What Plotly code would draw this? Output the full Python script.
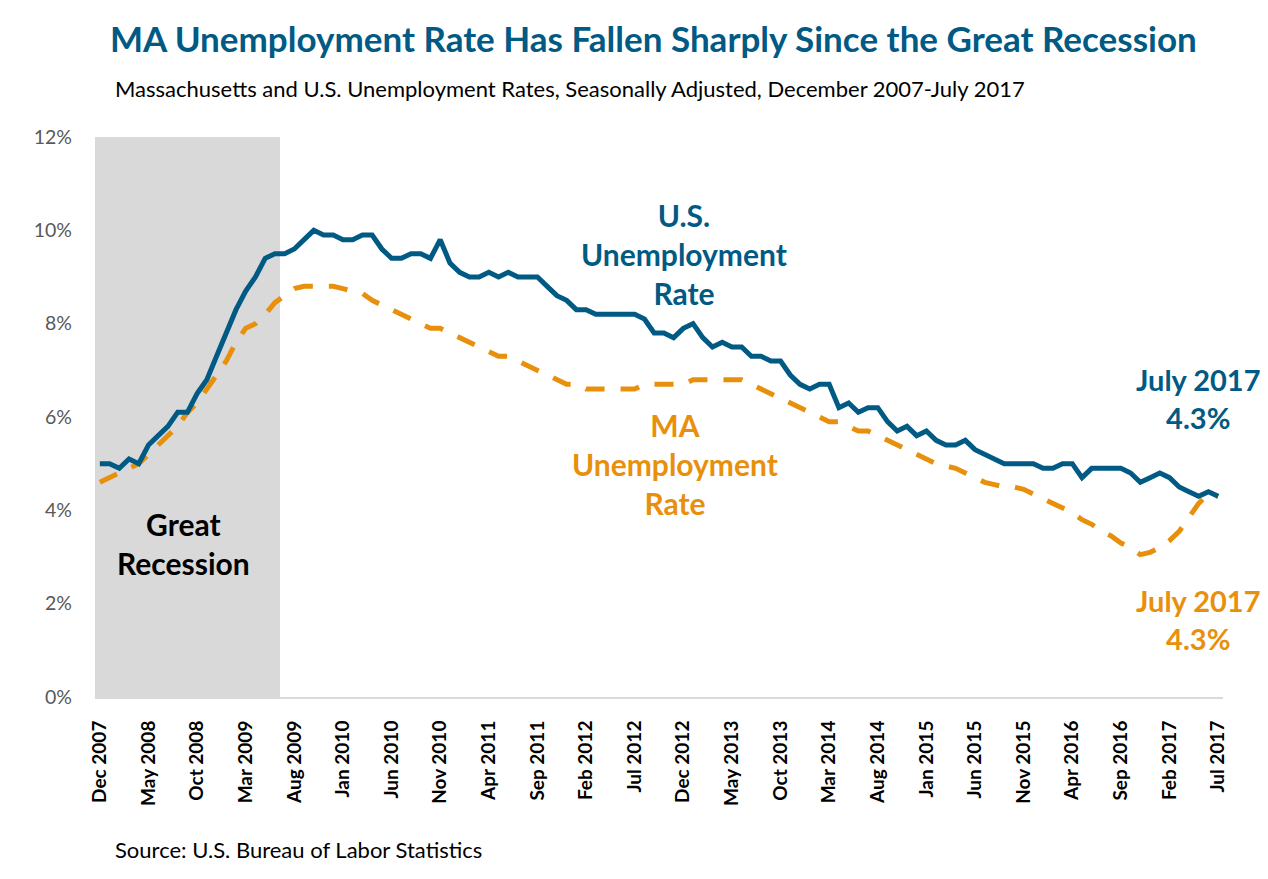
import plotly.graph_objects as go
import pandas as pd

# ---------------- data ----------------
months = list(pd.date_range("2007-12-01", periods=116, freq="MS").strftime("%b %Y"))

us_rate = [
    5.0,
    5.0, 4.9, 5.1, 5.0, 5.4, 5.6, 5.8, 6.1, 6.1, 6.5, 6.8, 7.3,
    7.8, 8.3, 8.7, 9.0, 9.4, 9.5, 9.5, 9.6, 9.8, 10.0, 9.9, 9.9,
    9.8, 9.8, 9.9, 9.9, 9.6, 9.4, 9.4, 9.5, 9.5, 9.4, 9.8, 9.3,
    9.1, 9.0, 9.0, 9.1, 9.0, 9.1, 9.0, 9.0, 9.0, 8.8, 8.6, 8.5,
    8.3, 8.3, 8.2, 8.2, 8.2, 8.2, 8.2, 8.1, 7.8, 7.8, 7.7, 7.9,
    8.0, 7.7, 7.5, 7.6, 7.5, 7.5, 7.3, 7.3, 7.2, 7.2, 6.9, 6.7,
    6.6, 6.7, 6.7, 6.2, 6.3, 6.1, 6.2, 6.2, 5.9, 5.7, 5.8, 5.6,
    5.7, 5.5, 5.4, 5.4, 5.5, 5.3, 5.2, 5.1, 5.0, 5.0, 5.0, 5.0,
    4.9, 4.9, 5.0, 5.0, 4.7, 4.9, 4.9, 4.9, 4.9, 4.8, 4.6, 4.7,
    4.8, 4.7, 4.5, 4.4, 4.3, 4.4, 4.3,
]

ma_rate = [
    4.6,
    4.7, 4.8, 4.9, 5.0, 5.2, 5.4, 5.6, 5.8, 6.1, 6.3, 6.6, 6.9,
    7.2, 7.6, 7.9, 8.0, 8.2, 8.45, 8.6, 8.75, 8.8, 8.8, 8.8, 8.8,
    8.75, 8.7, 8.65, 8.5, 8.4, 8.3, 8.2, 8.1, 8.0, 7.9, 7.9, 7.8,
    7.7, 7.6, 7.5, 7.4, 7.3, 7.3, 7.2, 7.1, 7.0, 6.9, 6.8, 6.7,
    6.7, 6.6, 6.6, 6.6, 6.6, 6.6, 6.6, 6.7, 6.7, 6.7, 6.7, 6.7,
    6.8, 6.8, 6.8, 6.8, 6.8, 6.8, 6.7, 6.6, 6.5, 6.4, 6.3, 6.2,
    6.1, 6.0, 5.9, 5.9, 5.8, 5.7, 5.7, 5.6, 5.5, 5.4, 5.3, 5.2,
    5.1, 5.0, 4.95, 4.9, 4.8, 4.7, 4.6, 4.55, 4.5, 4.5, 4.45, 4.35,
    4.25, 4.15, 4.05, 3.95, 3.8, 3.7, 3.55, 3.45, 3.3, 3.2, 3.05, 3.1,
    3.2, 3.35, 3.55, 3.85, 4.15, 4.35, 4.3,
]

tick_labels = [
    "Dec 2007", "May 2008", "Oct 2008", "Mar 2009", "Aug 2009", "Jan 2010",
    "Jun 2010", "Nov 2010", "Apr 2011", "Sep 2011", "Feb 2012", "Jul 2012",
    "Dec 2012", "May 2013", "Oct 2013", "Mar 2014", "Aug 2014", "Jan 2015",
    "Jun 2015", "Nov 2015", "Apr 2016", "Sep 2016", "Feb 2017", "Jul 2017",
]

y_ticks = [0, 2, 4, 6, 8, 10, 12]
recession_start = "Dec 2007"
recession_end = "Jun 2009"
recession_top = 12

# ---------------- style ----------------
BLUE = "#005A84"
ORANGE = "#E8900C"
GREY = "#D9D9D9"
FONT = "Lato"

OFF = 8  # page body margin
W, H = 1268, 879
# plot area in screenshot coordinates
X0, X1, Y0, Y1 = 95, 1223, 137, 697
L, T = X0 - OFF, Y0 - OFF
R, B = W - (X1 - OFF), H - (Y1 - OFF)
PW, PH = X1 - X0, Y1 - Y0


def px(x):
    return (x - X0) / PW


def py(y):
    return (Y1 - y) / PH


rec_months = months[months.index(recession_start): months.index(recession_end) + 1]

fig = go.Figure()
fig.add_trace(go.Bar(
    x=rec_months, y=[recession_top] * len(rec_months),
    marker=dict(color=GREY, line=dict(width=0)), hoverinfo="skip", showlegend=False,
))
fig.add_trace(go.Scatter(
    x=months, y=ma_rate, mode="lines",
    line=dict(color=ORANGE, width=5, dash="19px,16px"), showlegend=False,
))
fig.add_trace(go.Scatter(
    x=months, y=us_rate, mode="lines",
    line=dict(color=BLUE, width=5), showlegend=False,
))

fig.update_layout(
    width=W, height=H,
    margin=dict(l=L, r=R, t=T, b=B),
    paper_bgcolor="white", plot_bgcolor="white",
    bargap=0,
    font=dict(family=FONT, color="black"),
    showlegend=False,
)
fig.update_xaxes(
    type="category", categoryorder="array", categoryarray=months,
    range=[-0.5, len(months) - 0.5],
    tickmode="array", tickvals=tick_labels,
    ticktext=["<b>%s</b>" % t for t in tick_labels],
    tickangle=-90, tickfont=dict(size=19, color="black", family=FONT),
    showgrid=False, zeroline=False,
    showline=True, linecolor=GREY, linewidth=2,
    ticks="", ticklabelstandoff=14,
)
fig.update_yaxes(
    range=[0, 12], tickmode="array", tickvals=y_ticks,
    ticktext=["%d%%" % v for v in y_ticks],
    tickfont=dict(size=19.5, color="#595959", family=FONT),
    showgrid=False, zeroline=False, showline=False, ticks="",
    ticklabelstandoff=22,
)

ann = []


def add(text, x, y, size, color, bold=True, xanchor="center"):
    ann.append(dict(
        text=("<b>%s</b>" % text) if bold else text,
        x=px(x), y=py(y), xref="paper", yref="paper",
        xanchor=xanchor, yanchor="middle", showarrow=False,
        font=dict(size=size, color=color, family=FONT), align="center",
    ))


add("MA Unemployment Rate Has Fallen Sharply Since the Great Recession", 653, 38, 35, BLUE)
add("Massachusetts and U.S. Unemployment Rates, Seasonally Adjusted, December 2007-July 2017",
    113, 88, 22, "black", bold=False, xanchor="left")
add("Source: U.S. Bureau of Labor Statistics", 113, 849, 22, "black", bold=False, xanchor="left")

add("Great<br>Recession", 183, 543, 30, "black")
add("U.S.<br>Unemployment<br>Rate", 684, 254, 30, BLUE)
add("MA<br>Unemployment<br>Rate", 675, 464, 30, ORANGE)
add("July 2017<br>4.3%", 1198, 398, 29, BLUE)
add("July 2017<br>4.3%", 1198, 619, 29, ORANGE)

fig.update_layout(annotations=ann)

fig.add_shape(type="line", xref="paper", yref="paper",
              x0=px(6), x1=px(6), y0=py(879), y1=py(8),
              line=dict(color=GREY, width=1.5))

fig.write_html("out.html")
